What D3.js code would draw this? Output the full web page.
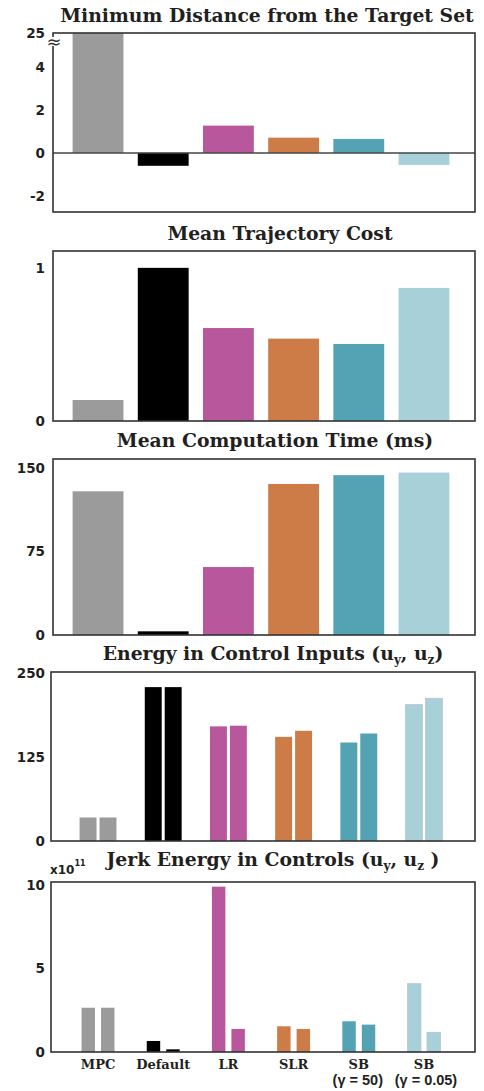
<!DOCTYPE html>
<html><head><meta charset="utf-8">
<script src="https://cdn.jsdelivr.net/npm/d3@7"></script>
<style>body{margin:0;background:#fff}svg{display:block}</style>
</head><body>
<svg id="c" width="484" height="1091"></svg>
<script>
const categories = ["MPC","Default","LR","SLR","SB","SB"];
const subLabels = ["","","","","(γ = 50)","(γ = 0.05)"];
const colors = ["#9b9b9b","#000000","#b8579b","#cd7c47","#54a3b5","#a8d0d8"];
const minDist = [25, -0.6, 1.27, 0.71, 0.65, -0.56];
const trajCost = [0.137, 1.0, 0.607, 0.538, 0.503, 0.869];
const compTime = [129, 3.3, 61, 135.6, 143.5, 145.8];
const energyUy = [35, 229, 170.6, 155, 146.6, 202.9];
const energyUz = [35, 229, 171.6, 164, 160, 212.4];
const jerkUy = [2.65, 0.66, 9.9, 1.54, 1.84, 4.09];
const jerkUz = [2.65, 0.16, 1.38, 1.38, 1.64, 1.18];
const ticks1 = [-2, 0, 2, 4];
const breakLabel = "25";
const ticks2 = [0, 1];
const ticks3 = [0, 75, 150];
const ticks4 = [0, 125, 250];
const ticks5 = [0, 5, 10];

const svg = d3.select("#c");
const FL = 53, FR = 475;
const titleFont = "'DejaVu Serif', serif";
const tickFont = "'DejaVu Sans', sans-serif";
const TS = 18.8;

const x = d3.scaleBand().domain(d3.range(6)).range([72.6, 449.4]).paddingInner(0.22).paddingOuter(0);

function title(y, cx, parts, size) {
  const t = svg.append("text").attr("x", cx).attr("y", y).attr("text-anchor", "middle")
    .attr("font-family", titleFont).attr("font-weight", "bold").attr("font-size", size).attr("fill", "#231f20");
  parts.forEach(p => {
    if (typeof p === "string") t.append("tspan").text(p);
    else t.append("tspan").attr("dy", p.dy).attr("font-size", p.size).text(p.t);
  });
  return t;
}

function panel(top, bottom, domain, ticks) {
  const y = d3.scaleLinear().domain(domain).range([bottom, top]);
  const g = svg.append("g");
  const ax = g.append("g").attr("transform", `translate(${45},0)`)
    .call(d3.axisLeft(y).tickValues(ticks).tickSize(0).tickPadding(0).tickFormat(d => String(d)));
  ax.select(".domain").remove();
  ax.selectAll("text").attr("font-family", tickFont).attr("font-weight", "bold").attr("font-size", 13.5).attr("fill", "#231f20");
  return {g, y};
}
function frame(top, bottom, left) {
  svg.append("rect").attr("x", left || FL).attr("y", top).attr("width", FR - (left || FL)).attr("height", bottom - top)
    .attr("fill", "none").attr("stroke", "#333").attr("stroke-width", 1.6);
}

// Panel 1
title(22, 267, ["Minimum Distance from the Target Set"], TS);
{
  const top = 33, bottom = 212;
  const {g, y} = panel(top, bottom, [-2.75, 5.58], ticks1);
  g.selectAll("rect.b").data(minDist).join("rect").attr("class", "b")
    .attr("x", (d, i) => x(i)).attr("width", x.bandwidth())
    .attr("y", d => y(Math.min(Math.max(d, 0), 5.58)))
    .attr("height", d => Math.abs(y(Math.min(d, 5.58)) - y(0)))
    .attr("fill", (d, i) => colors[i]);
  svg.append("line").attr("x1", FL).attr("x2", FR).attr("y1", y(0)).attr("y2", y(0)).attr("stroke", "#444").attr("stroke-width", 1.5);
  frame(top, bottom);
  svg.append("text").attr("x", 45).attr("y", y(5.58)).attr("dy", "0.35em").attr("text-anchor", "end")
    .attr("font-family", tickFont).attr("font-weight", "bold").attr("font-size", 13.5).attr("fill", "#231f20").text(breakLabel);
  svg.append("rect").attr("x", 46).attr("y", 37).attr("width", 16).attr("height", 9).attr("fill", "#fff");
  svg.append("text").attr("x", 54).attr("y", 48).attr("text-anchor", "middle").attr("font-family", tickFont)
    .attr("font-size", 18).attr("fill", "#333").text("≈");
}

// Panel 2
title(240, 280, ["Mean Trajectory Cost"], TS);
{
  const top = 251, bottom = 421;
  const {g, y} = panel(top, bottom, [0, 1.11], ticks2);
  g.selectAll("rect.b").data(trajCost).join("rect").attr("class", "b")
    .attr("x", (d, i) => x(i)).attr("width", x.bandwidth())
    .attr("y", d => y(d)).attr("height", d => y(0) - y(d)).attr("fill", (d, i) => colors[i]);
  frame(top, bottom);
}

// Panel 3
title(447, 275, ["Mean Computation Time (ms)"], TS);
{
  const top = 459, bottom = 635;
  const {g, y} = panel(top, bottom, [0, 158], ticks3);
  g.selectAll("rect.b").data(compTime).join("rect").attr("class", "b")
    .attr("x", (d, i) => x(i)).attr("width", x.bandwidth())
    .attr("y", d => y(d)).attr("height", d => y(0) - y(d)).attr("fill", (d, i) => colors[i]);
  frame(top, bottom);
}

function pairPanel(top, bottom, domain, ticks, a, b, padInner, padOuter) {
  const {g, y} = panel(top, bottom, domain, ticks);
  const inner = d3.scaleBand().domain([0, 1]).range([0, x.bandwidth()]).paddingInner(padInner).paddingOuter(padOuter);
  const data = [];
  a.forEach((v, i) => { data.push({i, k: 0, v}); data.push({i, k: 1, v: b[i]}); });
  g.selectAll("rect.b").data(data).join("rect").attr("class", "b")
    .attr("x", d => x(d.i) + inner(d.k)).attr("width", inner.bandwidth())
    .attr("y", d => y(d.v)).attr("height", d => y(0) - y(d.v)).attr("fill", d => colors[d.i])
    .attr("stroke", d => d.i === 5 ? "#b9c4c7" : "none").attr("stroke-width", 0.8);
  frame(top, bottom, 51);
  return y;
}

const sub = (t) => ({t, dy: 4, size: 12});
const back = (t) => ({t, dy: -4, size: TS});

// Panel 4
title(660, 273, ["Energy in Control Inputs (u", sub("y"), back(", u"), sub("z"), back(")")], TS);
pairPanel(672, 841, [0, 251.5], ticks4, energyUy, energyUz, 0.15, 0.35);

// Panel 5
title(866, 273, ["Jerk Energy in Controls (u", sub("y"), back(", u"), sub("z"), back(" )")], TS);
pairPanel(882, 1052, [0, 10.18], ticks5, jerkUy, jerkUz, 0.31, 0.46);
svg.append("text").attr("x", 50).attr("y", 874).attr("font-family", tickFont).attr("font-weight", "bold")
  .attr("font-size", 12).attr("fill", "#231f20")
  .call(t => { t.append("tspan").text("x10"); t.append("tspan").attr("dy", -8).attr("font-size", 8).text("11"); });

// x labels
svg.append("g").selectAll("text").data(categories).join("text")
  .attr("x", (d, i) => x(i) + x.bandwidth() / 2).attr("y", 1069).attr("text-anchor", "middle")
  .attr("font-family", titleFont).attr("font-weight", "bold").attr("font-size", 13).attr("fill", "#231f20")
  .text(d => d);
svg.append("g").selectAll("text").data(subLabels).join("text")
  .attr("x", (d, i) => x(i) + x.bandwidth() / 2 + (i === 4 ? -1 : 2)).attr("y", 1085).attr("text-anchor", "middle")
  .attr("font-family", "'Liberation Sans', Arial, sans-serif").attr("font-weight", "bold").attr("font-size", 14.5).attr("fill", "#231f20")
  .text(d => d);
</script>
</body></html>
